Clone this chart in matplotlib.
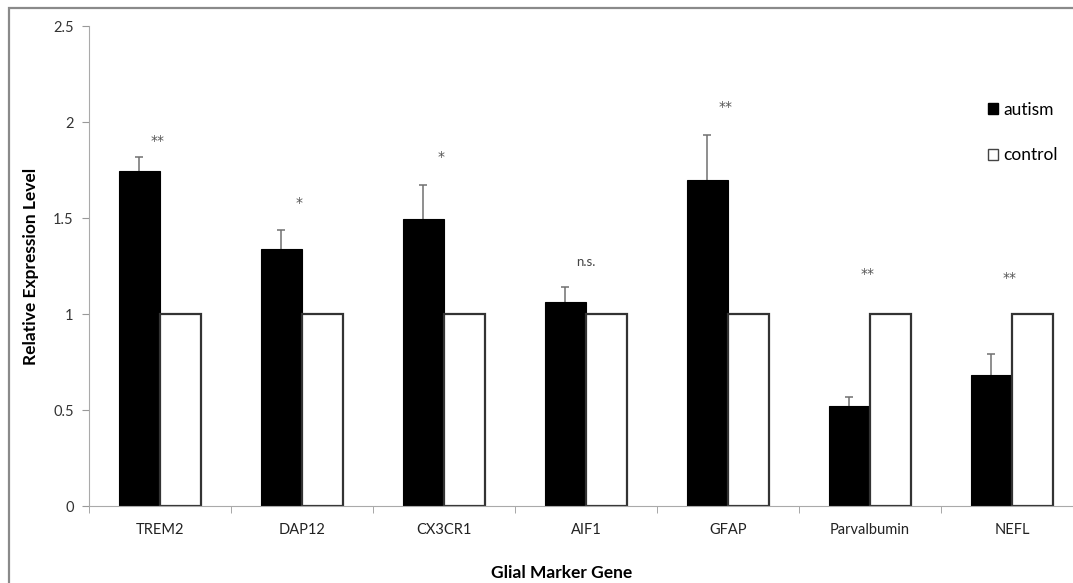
import matplotlib.pyplot as plt
import numpy as np
from matplotlib.patches import Rectangle, Patch

plt.rcParams['font.family'] = ['Lato', 'DejaVu Sans']

genes = ["TREM2", "DAP12", "CX3CR1", "AIF1", "GFAP", "Parvalbumin", "NEFL"]
autism = [1.745, 1.34, 1.495, 1.06, 1.70, 0.52, 0.68]
autism_err = [0.075, 0.10, 0.175, 0.08, 0.23, 0.05, 0.11]
control = [1, 1, 1, 1, 1, 1, 1]
signif = ["**", "*", "*", "n.s.", "**", "**", "**"]
signif_y = [1.90, 1.58, 1.82, 1.27, 2.08, 1.21, 1.19]


def plot():
    fig = plt.figure(figsize=(10.73, 5.83), dpi=100)
    W, H = 1073, 583

    # outer chart frame (cut off on the right/bottom like the original)
    fig.patches.append(Rectangle((9 / W, -0.05), 1.1, 1 - 8 / H + 0.05,
                                 transform=fig.transFigure, fill=False,
                                 edgecolor="#8a8a8a", lw=1.6))

    ax = fig.add_axes([89 / W, 77 / H, 994 / W, 480 / H])
    x = np.arange(len(genes))
    w = 0.29

    ax.bar(x - w / 2, autism, w, color="black", edgecolor="black", lw=0.8,
           label="autism", zorder=2)
    # upper-only error bars, drawn behind the bars so nothing shows at the bar top
    tops = np.array(autism) + np.array(autism_err)
    ax.vlines(x - w / 2, autism, tops, color="#707070", lw=1.1, zorder=1)
    ax.plot(x - w / 2, tops, ls="none", marker="_", ms=6, mew=1.1,
            color="#707070", zorder=1)
    ax.bar(x + w / 2, control, w, color="white", edgecolor="#333333", lw=1.6,
           label="control", zorder=2)

    for xi, s, sy in zip(x, signif, signif_y):
        if s == "n.s.":
            ax.text(xi, sy, s, ha="center", va="center", fontsize=9.5,
                    color="#444444")
        else:
            ax.text(xi - 0.02, sy, s, ha="center", va="center", fontsize=10,
                    color="#555555", family="DejaVu Sans")

    ax.set_xlim(-0.5, 6.5)
    ax.set_ylim(0, 2.5)
    ax.set_yticks([0, 0.5, 1, 1.5, 2, 2.5])
    ax.set_yticklabels(["0", "0.5", "1", "1.5", "2", "2.5"])
    ax.set_xticks(x)
    ax.set_xticklabels(genes)
    ax.set_xticks(np.arange(len(genes) + 1) - 0.5, minor=True)
    ax.tick_params(axis="x", which="major", length=0, pad=12, labelsize=10.5,
                   labelcolor="#222222")
    ax.tick_params(axis="x", which="minor", length=5, color="#999999",
                   direction="out")
    ax.tick_params(axis="y", length=5, color="#999999", labelsize=10.5,
                   labelcolor="#333333", pad=6)

    for side in ["top", "right"]:
        ax.spines[side].set_visible(False)
    ax.spines["left"].set_color("#aaaaaa")
    ax.spines["bottom"].set_color("#aaaaaa")

    fig.text(31 / W, 1 - 266 / H, "Relative Expression Level", rotation=90,
             ha="center", va="center", fontsize=12.5, fontweight="bold")
    fig.text(562 / W, 1 - 573 / H, "Glial Marker Gene", ha="center",
             va="center", fontsize=12.5, fontweight="bold")

    handles = [Patch(facecolor="black", edgecolor="black"),
               Patch(facecolor="white", edgecolor="#444444")]
    fig.legend(handles, ["autism", "control"], loc="upper left",
               bbox_to_anchor=(972 / W, 1 - 86 / H), frameon=False,
               fontsize=12.5, handlelength=0.6, handleheight=0.6,
               handletextpad=0.3, labelspacing=1.7)

    plt.savefig("out.png", dpi=100)


if __name__ == "__main__":
    plot()
